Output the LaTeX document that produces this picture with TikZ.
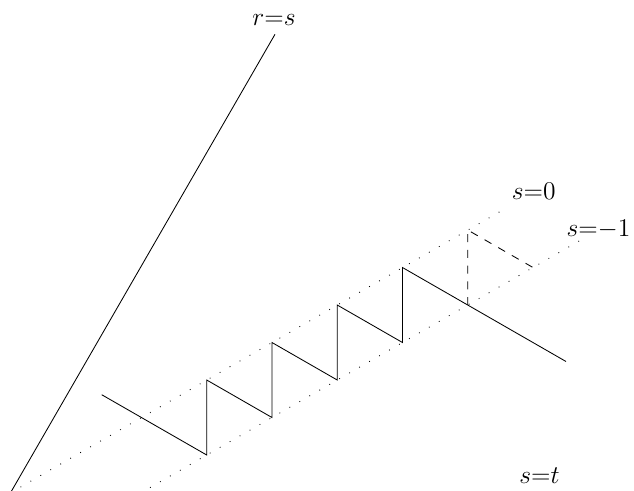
\documentclass[tikz,border=0pt]{standalone}
\usepackage{amsmath,amssymb}
\usepackage{tikz}
\usetikzlibrary{arrows.meta}

\begin{document}
\begin{tikzpicture}[
x=0.47pt, y=0.47pt,
lbl/.style={font=\fontsize{13}{15}\selectfont, inner sep=1pt},
level/.style={line width=0.4pt, dash pattern=on 0.4pt off 5pt},
walk/.style={line width=0.4pt, line join=miter},
ghost/.style={line width=0.4pt, dash pattern=on 3.7pt off 3.7pt} ]

\useasboundingbox (0,0) rectangle (634,491);

\coordinate (O) at (10.5,-1.8);
\coordinate (R) at (275,456.7);
\coordinate (U) at (508,284);
\coordinate (V0) at (150,3.4);
\coordinate (V1) at (588,255.1);

\coordinate (S) at (101.7,96.3);
\coordinate (B1) at (206.7,36);
\coordinate (T1) at (206.7,111);
\coordinate (B2) at (271.95,73.5);
\coordinate (T2) at (271.95,148.5);
\coordinate (B3) at (337.2,111);
\coordinate (T3) at (337.2,186);
\coordinate (B4) at (402.45,148.5);
\coordinate (T4) at (402.45,223.5);
\coordinate (B5) at (467.7,186);
\coordinate (T5) at (467.7,261);
\coordinate (B6) at (532.95,223.5);
\coordinate (E) at (566,129.5);

\node[lbl] (rs) at (274,471) {$r{=}s$};
\node[lbl] (s0) at (533.7,299.3) {$s{=}0$};
\node[lbl] (s1) at (598.5,261.5) {$s{=}{-1}$};
\node[lbl] (st) at (539.5,15.5) {$s{=}t$};

\draw[walk] (O) -- (R);
\draw[level] (O) -- (U);
\draw[level] (V0) -- (V1);

\draw[walk] (S) -- (B1) -- (T1) -- (B2) -- (T2) -- (B3) -- (T3) -- (B4) -- (T4) -- (E);
\draw[ghost] (B5) -- (T5) -- (B6);

\end{tikzpicture}
\end{document}
